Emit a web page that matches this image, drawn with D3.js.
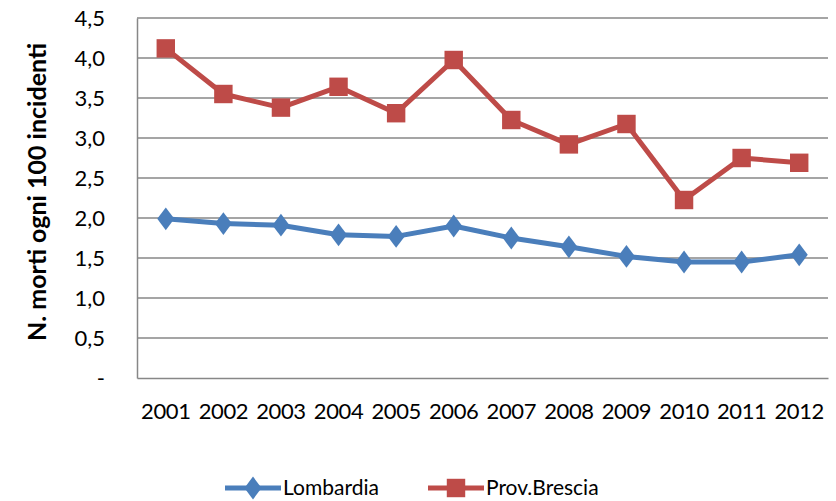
<!DOCTYPE html>
<html><head><meta charset="utf-8">
<script src="https://cdn.jsdelivr.net/npm/d3@7"></script>
<style>body{margin:0;background:#fff}svg{display:block}text{font-family:Lato,"Open Sans",sans-serif;fill:#000}</style>
</head><body><svg id="c" width="836" height="501"></svg>
<script>
const years = ["2001","2002","2003","2004","2005","2006","2007","2008","2009","2010","2011","2012"];
const lombardia = [1.99,1.93,1.91,1.79,1.77,1.90,1.75,1.64,1.52,1.45,1.45,1.54];
const brescia = [4.12,3.55,3.38,3.64,3.31,3.975,3.225,2.92,3.175,2.225,2.75,2.69];
const yTicks = [0,0.5,1,1.5,2,2.5,3,3.5,4,4.5];
const seriesNames = ["Lombardia","Prov.Brescia"];
const colors = ["#4a7ebb","#be4b48"];

const svg = d3.select("#c");
const m = {l:137, r:828, t:18, b:378};
const x = d3.scaleBand().domain(years).range([m.l, m.r]);
const y = d3.scaleLinear().domain([0,4.5]).range([m.b, m.t]);
const fmt = v => v === 0 ? "-" : d3.format(".1f")(v).replace(".", ",");

// gridlines
svg.append("g").selectAll("line").data(yTicks.filter(d=>d>0)).join("line")
  .attr("x1", m.l).attr("x2", m.r).attr("y1", d=>y(d)).attr("y2", d=>y(d))
  .attr("stroke","#878787").attr("stroke-width",1.5);

// axes
const yAxis = d3.axisLeft(y).tickValues(yTicks).tickFormat(fmt).tickSize(0).tickPadding(32);
const gy = svg.append("g").attr("transform",`translate(${m.l},0)`).call(yAxis);
gy.select(".domain").attr("stroke","#878787").attr("stroke-width",1.5);
gy.selectAll("text").attr("font-size",22).attr("font-family","Lato");

const xAxis = d3.axisBottom(x).tickSize(0).tickPadding(25);
const gx = svg.append("g").attr("transform",`translate(0,${m.b})`).call(xAxis);
gx.select(".domain").attr("stroke","#878787").attr("stroke-width",1.5);
gx.selectAll("text").attr("font-size",22).attr("font-family","Lato").attr("letter-spacing","-0.4");

// axis title
svg.append("text").attr("transform","translate(46,192) rotate(-90)")
  .attr("text-anchor","middle").attr("font-size",25).attr("font-weight","bold")
  .text("N. morti ogni 100 incidenti");

const line = d3.line().x((d,i)=>x(years[i])+x.bandwidth()/2).y(d=>y(d));
const data = [lombardia, brescia];
const diamond = d3.symbol().type(d3.symbolDiamond).size(150);
const square = d3.symbol().type(d3.symbolSquare).size(340);

data.forEach((vals, si) => {
  svg.append("path").attr("d", line(vals)).attr("fill","none")
    .attr("stroke", colors[si]).attr("stroke-width",5).attr("stroke-linejoin","round");
  svg.append("g").selectAll("path").data(vals).join("path")
    .attr("transform",(d,i)=>`translate(${x(years[i])+x.bandwidth()/2},${y(d)})${si===0?" scale(1.3,1)":""}`)
    .attr("d", si===0 ? diamond() : square())
    .attr("fill", colors[si]);
});

// legend
const legX = [225, 428];
seriesNames.forEach((n, si) => {
  const g = svg.append("g").attr("transform",`translate(${legX[si]},488)`);
  g.append("line").attr("x1",0).attr("x2",56).attr("stroke",colors[si]).attr("stroke-width",5);
  g.append("path").attr("transform",`translate(28,0)${si===0?" scale(1.3,1)":""}`)
    .attr("d", si===0 ? diamond() : square()).attr("fill",colors[si]);
  g.append("text").attr("x",58).attr("dy","0.35em").attr("font-size",21).text(n);
});
</script></body></html>
